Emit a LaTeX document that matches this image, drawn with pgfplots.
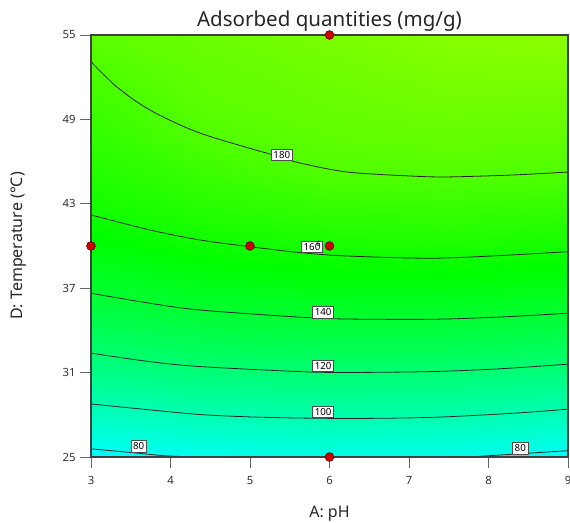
\documentclass[border=0pt]{standalone}
\usepackage{pgfplots}
\pgfplotsset{compat=1.18}
\usepackage{pgfplotstable}
\usepackage{fontspec}
\setmainfont{Noto Sans}

\definecolor{dotred}{HTML}{CC0000}
\definecolor{dotedge}{HTML}{6B0000}

% predicted response on a coarse grid (x = pH, y = temperature, v = mg/g)
\pgfplotstableread{
x   y    v
3   25   76
4.5 25   80
6   25   83
7.5 25   81.3
9   25   77
3   27.5 92
4.5 27.5 96.1
6   27.5 98.2
7.5 27.5 97.7
9   27.5 93.9
3   30   106.7
4.5 30   111.9
6   30   113.75
7.5 30   113.2
9   30   110
3   32.5 120.5
4.5 32.5 126
6   32.5 127.9
7.5 32.5 127.6
9   32.5 125
3   35   132.4
4.5 35   138.5
6   35   140.9
7.5 35   140.9
9   35   138.9
3   37.5 143.2
4.5 37.5 149
6   37.5 152
7.5 37.5 152.5
9   37.5 150.5
3   40   152.1
4.5 40   159.2
6   40   162.4
7.5 40   163
9   40   161.4
3   42.5 160.6
4.5 42.5 166.3
6   42.5 170.8
7.5 42.5 171.7
9   42.5 170.2
3   45   165.1
4.5 45   173.2
6   45   179.2
7.5 45   180.3
9   45   178.9
3   47.5 169.7
4.5 47.5 180
6   47.5 184
7.5 47.5 186
9   47.5 185
3   50   174.3
4.5 50   183.5
6   50   187.5
7.5 50   190.5
9   50   190
3   52.5 178.9
4.5 52.5 186
6   52.5 190
7.5 52.5 194
9   52.5 194.5
3   55   184
4.5 55   189
6   55   193
7.5 55   197
9   55   198.5
}\response

% contour levels
\pgfplotstableread{
x y
3.00 53.10
3.32 51.33
3.74 49.67
4.37 48.03
5.29 46.47
5.63 45.90
6.22 45.26
7.00 44.98
7.48 44.91
8.31 45.05
9.00 45.26
}\cA
\pgfplotstableread{
x y
3.00 42.21
3.74 41.14
4.37 40.43
5.00 39.95
5.63 39.53
6.22 39.29
7.26 39.13
8.11 39.31
9.00 39.60
}\cB
\pgfplotstableread{
x y
3.00 36.64
3.74 35.93
4.37 35.45
5.63 34.94
6.22 34.81
7.26 34.79
8.11 34.94
9.00 35.22
}\cC
\pgfplotstableread{
x y
3.00 32.38
3.74 31.78
4.37 31.43
5.63 31.07
6.22 31.01
7.26 31.07
8.11 31.26
9.00 31.60
}\cD
\pgfplotstableread{
x y
3.00 28.77
3.74 28.35
4.37 28.02
5.00 27.85
5.63 27.77
6.30 27.74
7.00 27.78
7.48 27.86
8.31 28.11
9.00 28.40
}\cE
\pgfplotstableread{
x y
3.00 25.58
3.52 25.31
3.95 25.08
4.37 25.00
}\cF
\pgfplotstableread{
x y
7.75 25.00
8.31 25.20
9.00 25.45
}\cG

% design points
\pgfplotstableread{
x y
6 55
3 40
5 40
6 40
6 25
}\design

\begin{document}
\begin{tikzpicture}
\useasboundingbox (-68.25pt,-48.75pt) rectangle (359.25pt,342.75pt);
\begin{axis}[
  scale only axis,
  width=357.75pt, height=316.5pt,
  xmin=3, xmax=9, ymin=25, ymax=55,
  xtick={3,4,5,6,7,8,9},
  ytick={25,31,37,43,49,55},
  tick align=outside,
  xtick pos=left, ytick pos=left,
  major tick length=8pt,
  tick style={color=black!60, line width=0.6pt},
  axis line style={color=black!75, line width=0.8pt},
  ticklabel style={font=\fontsize{8.5}{10}\selectfont, color=black!80},
  xticklabel style={yshift=-3pt},
  /pgf/number format/assume math mode=true,
  clip=false,
  axis on top,
  colormap={resp}{rgb255=(0,255,255) rgb255=(0,255,0) rgb255=(255,255,0)},
  point meta min=75, point meta max=235,
  every axis title shift=0pt,
  title={Adsorbed quantities (mg/g)},
  title style={at={(axis description cs:0.5,1.019)}, anchor=base,
    font=\fontsize{15.4}{18}\selectfont, color=black!85},
  xlabel={A: pH},
  xlabel style={at={(axis description cs:0.5,-0.1422)}, anchor=base,
    font=\fontsize{12}{14}\selectfont, color=black!85},
  ylabel={D: Temperature (°C)},
  ylabel style={at={(axis description cs:-0.1426,0.5)}, anchor=base, rotate=0,
    font=\fontsize{12}{14}\selectfont, color=black!85},
]
\addplot[surf, shader=interp, mesh/cols=5, point meta=explicit]
  table[x=x, y=y, meta=v] {\response};

\pgfplotsset{cline/.style={black!85, line width=0.6pt, smooth, tension=0.5}}
\addplot[cline] table {\cA};
\addplot[cline] table {\cB};
\addplot[cline] table {\cC};
\addplot[cline] table {\cD};
\addplot[cline] table {\cE};
\addplot[cline] table {\cF};
\addplot[cline] table {\cG};

\tikzset{clab/.style={fill=white, draw=black!70, line width=0.4pt,
  inner sep=1.6pt, font=\fontsize{7.3}{8}\selectfont}}
\node[clab] at (axis cs:5.40,46.47) {180};
\node[clab] at (axis cs:5.78,39.93) {160};
\node[clab] at (axis cs:5.92,35.28) {140};
\node[clab] at (axis cs:5.92,31.47) {120};
\node[clab] at (axis cs:5.92,28.20) {100};
\node[clab] at (axis cs:3.60,25.75) {80};
\node[clab] at (axis cs:8.40,25.61) {80};
\node[font=\fontsize{5.5}{6}\selectfont, inner sep=0pt] at (axis cs:5.86,40.17) {6};

\addplot[only marks, mark=*, mark size=3.3pt,
  mark options={fill=dotred, draw=dotedge, line width=0.5pt}]
  table {\design};
\end{axis}
\end{tikzpicture}
\end{document}
